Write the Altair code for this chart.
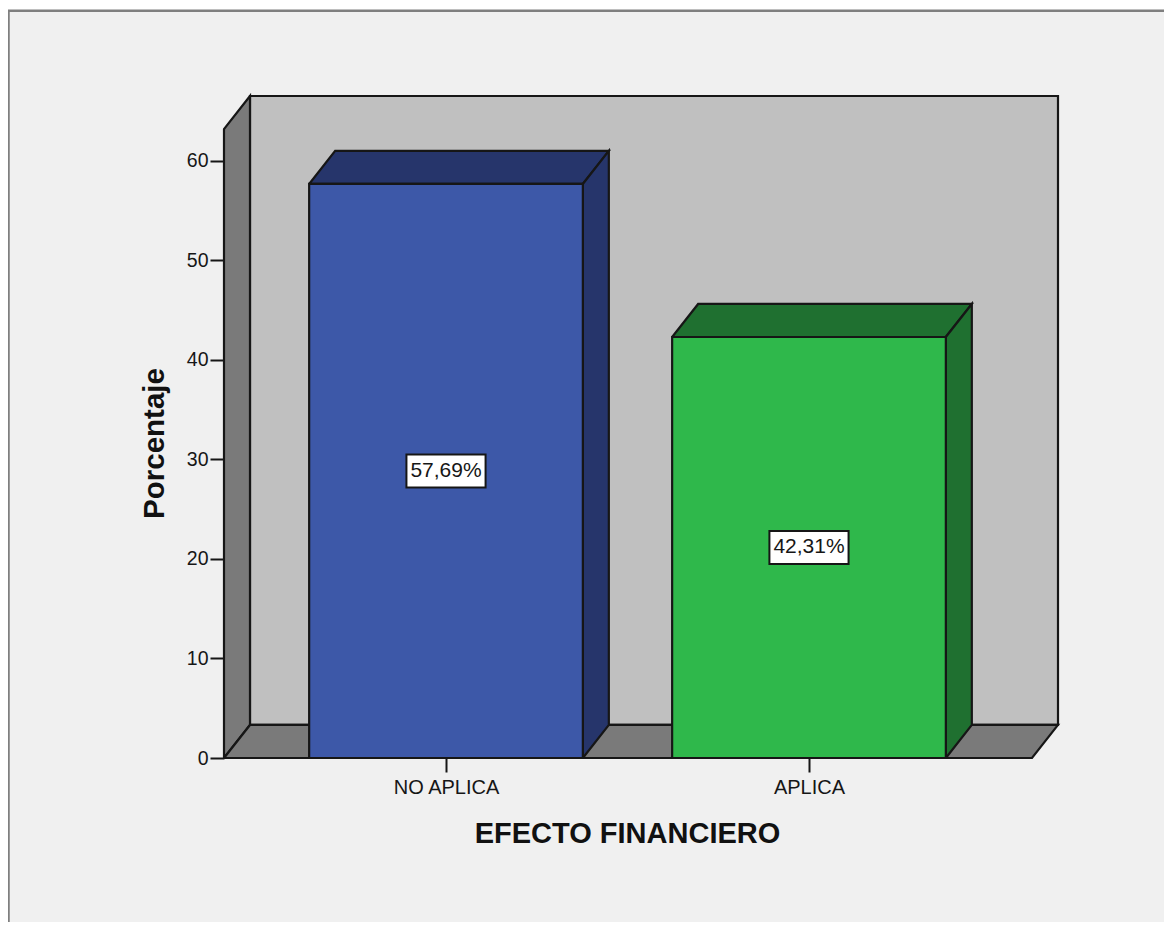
import altair as alt
import pandas as pd

categories = ["NO APLICA", "APLICA"]
values = [57.69, 42.31]
labels = ["57,69%", "42,31%"]
y_ticks = [0, 10, 20, 30, 40, 50, 60]

X_MIN, X_MAX = -0.6116, 1.686
Y_MAX = 66.53
FRONT_X_MAX = X_MAX - 0.0716
DX, DY = 0.0716, 3.32
HALF = 0.377
FRONT_TOP = Y_MAX - DY
BOX_W, BOX_H = 0.109, 1.66

FONT = "Liberation Sans"
INK = "#161616"
WALL = "#c0c0c0"
SHADE = "#7a7a7a"
FRONTS = ["#3d58a8", "#2fb84b"]
DARKS = ["#26356b", "#1f7030"]

label_expr = "datum.value == 0 ? '%s' : '%s'" % (categories[0], categories[1])
xs = alt.X(
    "x:Q",
    scale=alt.Scale(domain=[X_MIN, X_MAX], nice=False, zero=False),
    axis=alt.Axis(
        values=[0, 1], labelExpr=label_expr, title="EFECTO FINANCIERO",
        domain=False, grid=False, tickSize=14, tickWidth=2, tickColor=INK,
        labelFont=FONT, labelFontSize=20, labelColor=INK, labelPadding=5,
        titleFont=FONT, titleFontSize=29, titleFontWeight="bold", titleColor="#111",
        titleX=403, titlePadding=22, zindex=1,
    ),
)
ys = alt.Y(
    "y:Q",
    scale=alt.Scale(domain=[0, Y_MAX], nice=False, zero=False),
    axis=alt.Axis(
        values=y_ticks, title="Porcentaje",
        domain=False, grid=False, tickSize=14, tickWidth=2, tickColor=INK,
        labelFont=FONT, labelFontSize=19.5, labelColor=INK, labelPadding=2,
        titleFont=FONT, titleFontSize=29.5, titleFontWeight="bold", titleColor="#111",
        titleY=347, titlePadding=17, zindex=1,
    ),
)


def polygon(points, fill, width=2.2):
    df = pd.DataFrame(
        [{"x": p[0], "y": p[1], "i": i} for i, p in enumerate(points + points[:1])]
    )
    return (
        alt.Chart(df)
        .mark_line(fill=fill, stroke=INK, strokeWidth=width, strokeJoin="miter", clip=False)
        .encode(x=xs, y=ys, order="i:Q")
    )


frame = (
    alt.Chart(pd.DataFrame({"a": [0]}))
    .mark_rect(fill="#f0f0f0", stroke="#7f7f7f", strokeWidth=2.5)
    .encode(
        x=alt.value(-215.5), x2=alt.value(945), y=alt.value(-85.3), y2=alt.value(831)
    )
)

layers = [frame]

# walls of the box
layers.append(polygon([(X_MIN + DX, DY), (X_MAX, DY), (X_MAX, Y_MAX), (X_MIN + DX, Y_MAX)], WALL))
layers.append(polygon([(X_MIN, 0), (X_MIN + DX, DY), (X_MIN + DX, Y_MAX), (X_MIN, FRONT_TOP)], SHADE))
layers.append(polygon([(X_MIN, 0), (FRONT_X_MAX, 0), (X_MAX, DY), (X_MIN + DX, DY)], SHADE))

# bars
for i, v in enumerate(values):
    l, r = i - HALF, i + HALF
    layers.append(polygon([(l, v), (r, v), (r + DX, v + DY), (l + DX, v + DY)], DARKS[i]))
    layers.append(polygon([(r, 0), (r + DX, DY), (r + DX, v + DY), (r, v)], DARKS[i]))
    layers.append(
        alt.Chart(pd.DataFrame({"x": [l], "x2": [r], "y": [0.0], "y2": [v]}))
        .mark_rect(fill=FRONTS[i], stroke=INK, strokeWidth=2.2)
        .encode(x=xs, x2="x2:Q", y=ys, y2="y2:Q")
    )

# value labels
for i, v in enumerate(values):
    m = v / 2
    layers.append(
        alt.Chart(pd.DataFrame({"x": [i - BOX_W], "x2": [i + BOX_W], "y": [m - BOX_H], "y2": [m + BOX_H]}))
        .mark_rect(fill="white", stroke=INK, strokeWidth=2)
        .encode(x=xs, x2="x2:Q", y=ys, y2="y2:Q")
    )
    layers.append(
        alt.Chart(pd.DataFrame({"x": [i], "y": [m], "t": [labels[i]]}))
        .mark_text(font=FONT, fontSize=21, color=INK, baseline="middle", align="center")
        .encode(x=xs, y=ys, text="t:N")
    )

chart = (
    alt.layer(*layers)
    .properties(
        width=834,
        height=662,
        background="white",
        padding={"left": 216, "top": 88, "right": 106, "bottom": 164},
        autosize=alt.AutoSizeParams(type="none"),
    )
    .configure_view(stroke=None)
)

chart.save("out.html", embed_options={"renderer": "svg", "actions": False})
